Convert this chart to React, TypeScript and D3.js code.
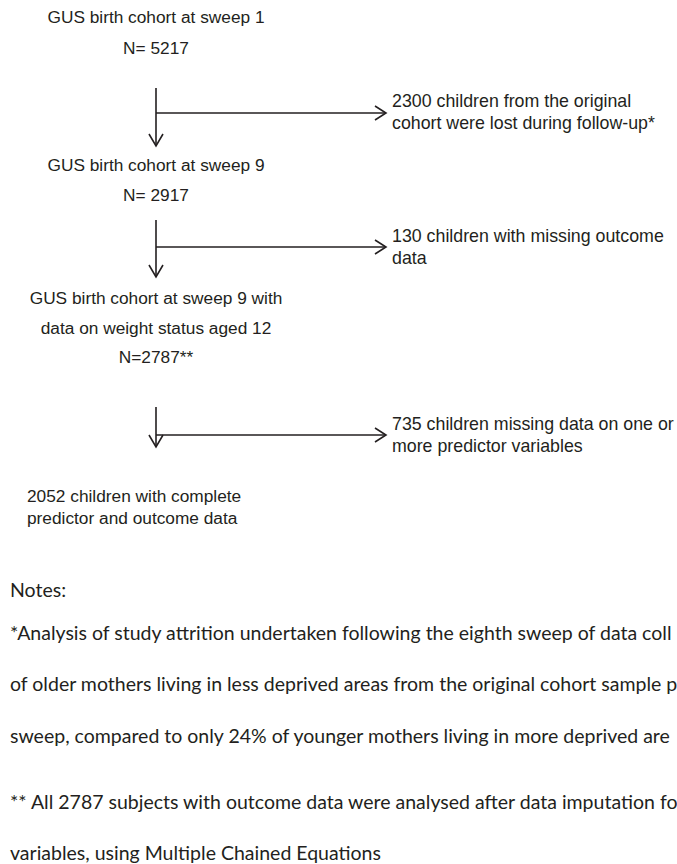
import { useEffect, useRef } from 'react';
import * as d3 from 'd3';

// text of the cohort steps (main column)
const stepLabels: string[][] = [
  ['GUS birth cohort at sweep 1', 'N= 5217'],
  ['GUS birth cohort at sweep 9', 'N= 2917'],
  ['GUS birth cohort at sweep 9 with', 'data on weight status aged 12', 'N=2787**'],
  ['2052 children with complete', 'predictor and outcome data'],
];

// children dropped at each arrow
const exclusionLabels: string[][] = [
  ['2300 children from the original', 'cohort were lost during follow-up*'],
  ['130 children with missing outcome', 'data'],
  ['735 children missing data on one or', 'more predictor variables'],
];

const noteLines: string[] = [
  'Notes:',
  '*Analysis of study attrition undertaken following the eighth sweep of data coll',
  'of older mothers living in less deprived areas from the original cohort sample p',
  'sweep, compared to only 24% of younger mothers living in more deprived are',
  '** All 2787 subjects with outcome data were analysed after data imputation fo',
  'variables, using Multiple Chained Equations',
];

// layout (pixels)
const W = 677;
const H = 864;
const colX = 156;
const stepY = [[17, 48], [165, 195], [298, 328, 357], [496, 518]];
const arrowY = [
  { top: 88, bottom: 146, branch: 113 },
  { top: 220, bottom: 277, branch: 247 },
  { top: 407, bottom: 447, branch: 435 },
];
const arrowEndX = 386;
const exclX = 392;
const exclY = [[101, 123], [236, 258], [424, 446]];
const noteX = 10;
const noteY = [589, 632, 683, 735, 801, 852.5];

const ink = '#231f20';
const flowFont = '"Liberation Sans", Arial, sans-serif';
const noteFont = 'Lato, "Open Sans", sans-serif';

export default function App() {
  const svgRef = useRef<SVGSVGElement>(null);

  useEffect(() => {
    if (!svgRef.current) return;
    const svg = d3.select(svgRef.current);
    svg.selectAll('*').remove();

    const line = d3.line<[number, number]>();

    // main column text
    stepLabels.forEach((lines, i) => {
      const last = i === stepLabels.length - 1;
      lines.forEach((t, j) => {
        svg.append('text')
          .attr('x', last ? 27 : colX)
          .attr('y', stepY[i][j])
          .attr('text-anchor', last ? 'start' : 'middle')
          .attr('dominant-baseline', 'central')
          .attr('font-family', flowFont)
          .attr('font-size', 17.3)
          .attr('fill', ink)
          .text(t);
      });
    });

    // arrows
    arrowY.forEach((a) => {
      const g = svg.append('g')
        .attr('fill', 'none')
        .attr('stroke', ink)
        .attr('stroke-width', 1.6);
      g.append('path').attr('d', line([[colX, a.top], [colX, a.bottom]]));
      g.append('path').attr('d', line([[colX - 7, a.bottom - 12], [colX, a.bottom], [colX + 7, a.bottom - 12]]));
      g.append('path').attr('d', line([[colX, a.branch], [arrowEndX, a.branch]]));
      g.append('path').attr('d', line([[arrowEndX - 11, a.branch - 7], [arrowEndX, a.branch], [arrowEndX - 11, a.branch + 7]]));
    });

    // exclusion text
    exclusionLabels.forEach((lines, i) => {
      lines.forEach((t, j) => {
        svg.append('text')
          .attr('x', exclX)
          .attr('y', exclY[i][j])
          .attr('dominant-baseline', 'central')
          .attr('font-family', flowFont)
          .attr('font-size', 17.8)
          .attr('fill', ink)
          .text(t);
      });
    });

    // notes
    noteLines.forEach((t, i) => {
      svg.append('text')
        .attr('x', noteX)
        .attr('y', noteY[i])
        .attr('dominant-baseline', 'central')
        .attr('font-family', noteFont)
        .attr('font-size', 19.5)
        .attr('fill', ink)
        .text(t);
    });
  }, []);

  return (
    <div style={{ position: 'fixed', left: 0, top: 0, width: W, height: H, overflow: 'hidden', background: '#fff' }}>
      <svg ref={svgRef} width={W} height={H} style={{ display: 'block' }} />
    </div>
  );
}
